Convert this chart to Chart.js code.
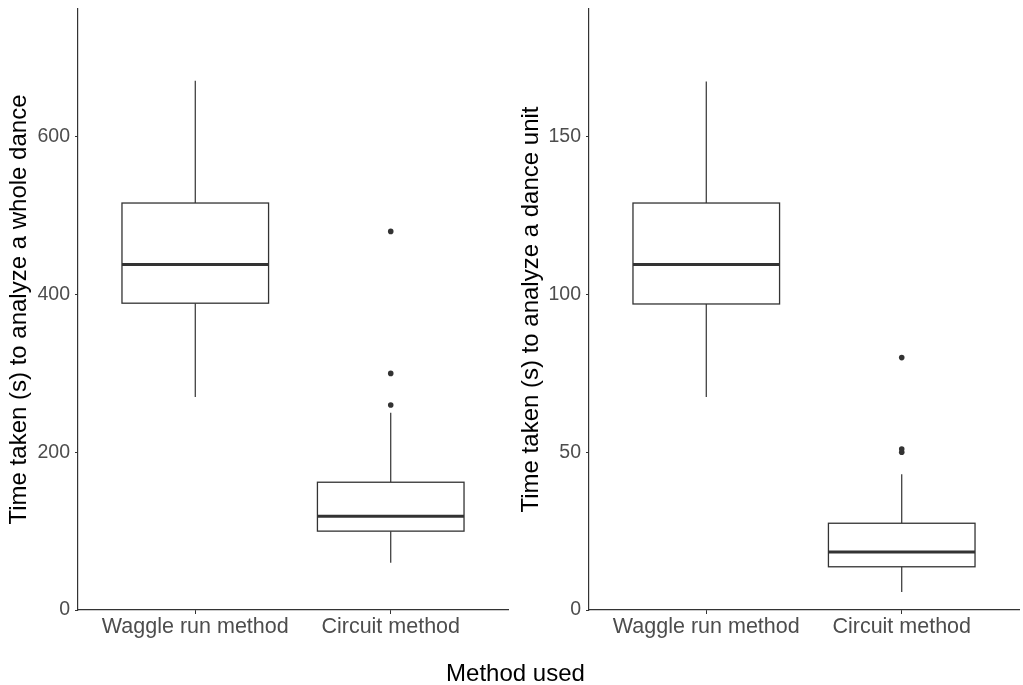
<!DOCTYPE html>
<html>
<head>
<meta charset="utf-8">
<script src="https://cdn.jsdelivr.net/npm/chart.js@4.4.1/dist/chart.umd.min.js"></script>
<style>
  body { margin: 0; background: #fff; }
  #wrap { position: relative; width: 1023px; height: 685px; }
  canvas { position: absolute; top: 0; }
  #xtitle {
    position: absolute; left: 0; width: 1031px; top: 659px;
    text-align: center; font-family: "Liberation Sans", Arial, sans-serif;
    font-size: 24px; color: #000;
  }
</style>
</head>
<body>
<div id="wrap">
  <canvas id="chartWhole" width="512" height="685" style="left:0"></canvas>
  <canvas id="chartUnit" width="511" height="685" style="left:512px"></canvas>
  <div id="xtitle">Method used</div>
</div>
<script>
var categories = ['Waggle run method', 'Circuit method'];

// whole dance (s)
var wholeLow = [270, 60];
var wholeQ1 = [389, 100];
var wholeMedian = [438, 119];
var wholeQ3 = [516, 162];
var wholeHigh = [671, 250];
var wholeOutliers = [[], [480, 300, 260]];
var wholeTicks = [0, 200, 400, 600];

// dance unit (s)
var unitLow = [67.5, 5.7];
var unitQ1 = [97, 13.7];
var unitMedian = [109.5, 18.4];
var unitQ3 = [129, 27.5];
var unitHigh = [167.5, 43];
var unitOutliers = [[], [80, 51, 50]];
var unitTicks = [0, 50, 100, 150];

var FONT = '"Liberation Sans", Arial, sans-serif';
var INK = '#333333';

function boxPlugin(s) {
  return {
    id: 'boxes',
    beforeDatasetsDraw: function (chart) {
      var x = chart.scales.x, y = chart.scales.y, c = chart.ctx;
      c.save();
      c.strokeStyle = INK;
      for (var i = 0; i < categories.length; i++) {
        var xc = x.getPixelForValue(i + 1);
        var x0 = x.getPixelForValue(i + 1 - 0.375);
        var x1 = x.getPixelForValue(i + 1 + 0.375);
        // whiskers
        c.lineWidth = 1.2;
        c.beginPath();
        c.moveTo(xc, y.getPixelForValue(s.q3[i]));
        c.lineTo(xc, y.getPixelForValue(s.high[i]));
        c.moveTo(xc, y.getPixelForValue(s.q1[i]));
        c.lineTo(xc, y.getPixelForValue(s.low[i]));
        c.stroke();
        // box
        var yt = y.getPixelForValue(s.q3[i]), yb = y.getPixelForValue(s.q1[i]);
        c.fillStyle = '#fff';
        c.fillRect(x0, yt, x1 - x0, yb - yt);
        c.lineWidth = 1.3;
        c.strokeRect(x0, yt, x1 - x0, yb - yt);
        // median
        c.lineWidth = 3;
        c.beginPath();
        c.moveTo(x0, y.getPixelForValue(s.median[i]));
        c.lineTo(x1, y.getPixelForValue(s.median[i]));
        c.stroke();
      }
      c.restore();
    }
  };
}

function makePanel(id, title, s, yTicks, yMax, yWidth, padRight) {
  var points = [];
  s.outliers.forEach(function (list, i) {
    list.forEach(function (v) { points.push({ x: i + 1, y: v }); });
  });
  return new Chart(document.getElementById(id).getContext('2d'), {
    type: 'scatter',
    data: {
      datasets: [{
        data: points,
        pointRadius: 2.8,
        pointBackgroundColor: INK,
        pointBorderWidth: 0
      }]
    },
    plugins: [boxPlugin(s)],
    options: {
      responsive: false,
      animation: false,
      layout: { padding: { top: 9, right: padRight, left: 0, bottom: 0 } },
      plugins: { legend: { display: false }, tooltip: { enabled: false } },
      scales: {
        x: {
          type: 'linear',
          min: 0.4,
          max: 2.6,
          afterBuildTicks: function (sc) { sc.ticks = [{ value: 1 }, { value: 2 }]; },
          afterFit: function (sc) { sc.height = 75; sc.paddingLeft = 0; sc.paddingRight = 0; },
          grid: { drawOnChartArea: false, drawTicks: true, tickLength: 4, color: INK },
          border: { display: true, color: INK, width: 1.2 },
          ticks: {
            padding: 0,
            color: '#4d4d4d',
            font: { family: FONT, size: 21.5 },
            callback: function (v) { return categories[v - 1] || ''; }
          }
        },
        y: {
          min: 0,
          max: yMax,
          afterBuildTicks: function (sc) { sc.ticks = yTicks.map(function (v) { return { value: v }; }); },
          afterFit: function (sc) { sc.width = yWidth; sc.paddingTop = 0; sc.paddingBottom = 0; },
          grid: { drawOnChartArea: false, drawTicks: true, tickLength: 3, color: INK },
          border: { display: true, color: INK, width: 1.2 },
          ticks: {
            padding: 5,
            color: '#4d4d4d',
            font: { family: FONT, size: 19.5 }
          },
          title: {
            display: true,
            text: title,
            color: '#000',
            font: { family: FONT, size: 24 },
            padding: { top: 5, bottom: 0 }
          }
        }
      }
    }
  });
}

makePanel('chartWhole', 'Time taken (s) to analyze a whole dance',
  { low: wholeLow, q1: wholeQ1, median: wholeMedian, q3: wholeQ3, high: wholeHigh, outliers: wholeOutliers },
  wholeTicks, 762, 78, 3);

makePanel('chartUnit', 'Time taken (s) to analyze a dance unit',
  { low: unitLow, q1: unitQ1, median: unitMedian, q3: unitQ3, high: unitHigh, outliers: unitOutliers },
  unitTicks, 190.5, 77, 0);
</script>
</body>
</html>
